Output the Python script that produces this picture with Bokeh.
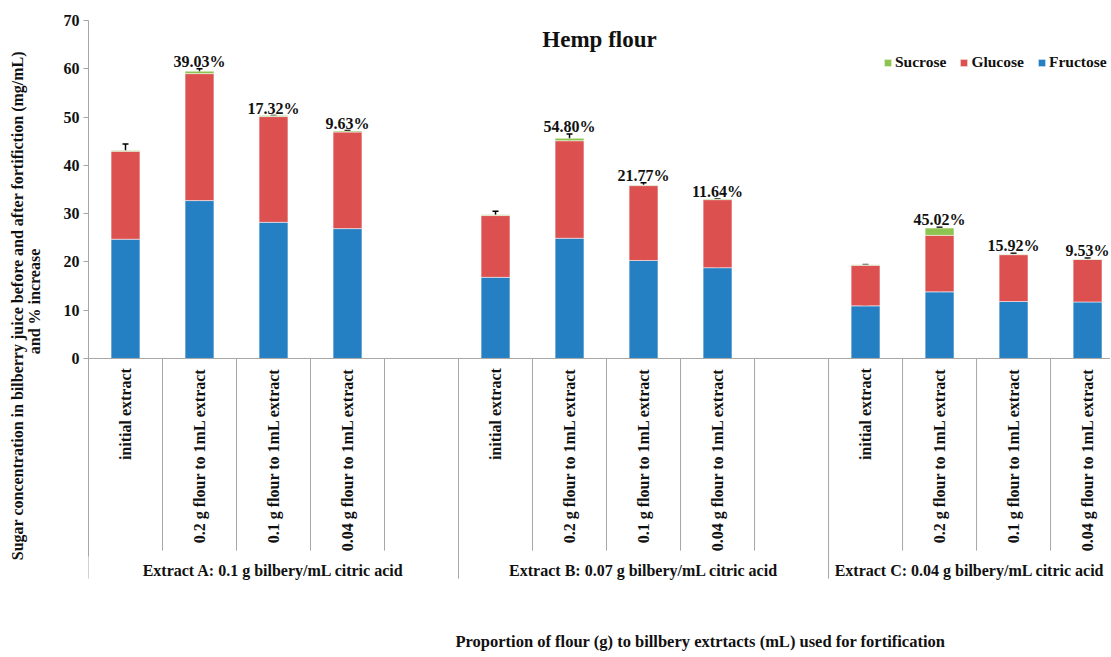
import numpy as np
from bokeh.plotting import figure
from bokeh.layouts import column
from bokeh.models import (ColumnDataSource, Range1d, FixedTicker, Span, Whisker,
                          TeeHead, Legend, LegendItem, Label)
from bokeh.core.properties import value
from bokeh.embed import file_html
from bokeh.resources import INLINE

# ---------------- data ----------------
groups = [
    "Extract A: 0.1 g bilbery/mL citric acid",
    "Extract B: 0.07 g bilbery/mL citric acid",
    "Extract C: 0.04 g bilbery/mL citric acid",
]
treatments = [
    "initial extract",
    "0.2 g flour to 1mL extract",
    "0.1 g flour to 1mL extract",
    "0.04 g flour to 1mL extract",
]
fructose = [24.7, 32.7, 28.2, 26.9, 16.8, 24.9, 20.3, 18.8, 10.9, 13.8, 11.8, 11.7]
glucose = [18.2, 26.3, 21.9, 20.0, 12.8, 20.2, 15.5, 14.1, 8.4, 11.7, 9.7, 8.8]
sucrose = [0.2, 0.5, 0.2, 0.2, 0.15, 0.5, 0.15, 0.15, 0.1, 1.5, 0.1, 0.1]
fructose_err = [0.5, 1.1, 0.7, 0.4, 0.9, 1.7, 0.8, 0.2, 0.1, 2.1, 0.7, 0.6]
glucose_err = [1.5, 1.0, 0.2, 0.3, 0.9, 1.4, 0.6, 0.2, 0.15, 1.7, 0.3, 0.3]
increase = ["", "39.03%", "17.32%", "9.63%",
            "", "54.80%", "21.77%", "11.64%",
            "", "45.02%", "15.92%", "9.53%"]

series_names = ["Fructose", "Glucose", "Sucrose"]
colors = ["#2580C3", "#DD5050", "#8DC351"]

x_title = "Proportion of flour (g) to billbery extrtacts (mL) used for fortification"
y_title = ("Sugar concentration in  bilberry juice before and  after fortifiction (mg/mL)"
           "\nand % increase")

# ---------------- layout helpers ----------------
FONT = "Liberation Serif"
TXT = "#111111"
GRAY = "#A6A6A6"
SLOTS = len(treatments) + 1          # 4 bars + one empty slot per group
X_END = 13.81                        # visible part of the 15 slots (chart is cropped)

x = [g * SLOTS + s + 0.5 for g in range(len(groups)) for s in range(len(treatments))]
tick_labels = [t for _ in groups for t in treatments]
fg = [f + g for f, g in zip(fructose, glucose)]
total = [a + s for a, s in zip(fg, sucrose)]

src = ColumnDataSource(dict(
    x=x,
    fructose=fructose, glucose=glucose, sucrose=sucrose,
    f_top=fructose,
    f_hi=[f + e for f, e in zip(fructose, fructose_err)],
    fg_top=fg,
    fg_hi=[a + e for a, e in zip(fg, glucose_err)],
))

p = figure(width=1110, height=582,
           x_range=Range1d(0, X_END), y_range=Range1d(-46.4, 70),
           output_backend="svg", toolbar_location=None,
           min_border_left=88, min_border_right=0,
           min_border_top=20, min_border_bottom=0)
p.title.visible = False
p.grid.visible = False
p.outline_line_color = None
p.background_fill_color = "white"

# ---- y axis
p.yaxis.ticker = FixedTicker(ticks=list(range(0, 71, 10)))
p.yaxis.bounds = (-41, 70)
p.yaxis.axis_label = y_title
p.yaxis.axis_label_text_font = FONT
p.yaxis.axis_label_text_font_style = "bold"
p.yaxis.axis_label_text_font_size = "16px"
p.yaxis.axis_label_text_line_height = 1.0
p.yaxis.axis_label_text_color = TXT
p.yaxis.axis_label_standoff = 18
p.yaxis.major_label_text_font = FONT
p.yaxis.major_label_text_font_style = "bold"
p.yaxis.major_label_text_font_size = "16px"
p.yaxis.major_label_text_color = TXT
p.yaxis.major_label_standoff = 4
p.yaxis.axis_line_color = GRAY
p.yaxis.major_tick_line_color = GRAY
p.yaxis.major_tick_out = 5
p.yaxis.major_tick_in = 0
p.yaxis.minor_tick_line_color = None

# ---- x axis: categories are drawn below the zero line
p.xaxis.visible = False

# zero line
p.add_layout(Span(location=0, dimension="width", line_color=GRAY, line_width=1))

# category separators
inner = [g * SLOTS + s for g in range(len(groups)) for s in range(1, SLOTS)]
outer = [g * SLOTS for g in range(len(groups))]
p.segment(x0=inner, y0=[0] * len(inner), x1=inner, y1=[-39.8] * len(inner),
          line_color=GRAY, line_width=1)
p.segment(x0=outer, y0=[0] * len(outer), x1=outer, y1=[-45.6] * len(outer),
          line_color=GRAY, line_width=1)

# stacked bars
rs = p.vbar_stack(["fructose", "glucose", "sucrose"], x="x", width=0.39,
                  color=colors, source=src, line_color="white", line_width=0.5)

# error bars
for lo, hi in (("f_top", "f_hi"), ("fg_top", "fg_hi")):
    p.add_layout(Whisker(source=src, base="x", lower=lo, upper=hi, dimension="height",
                         line_color="black", line_width=1.5, lower_head=None,
                         upper_head=TeeHead(size=6, line_color="black", line_width=1.5)))

# percent increase labels
idx = [i for i, t in enumerate(increase) if t]
pct_src = ColumnDataSource(dict(
    x=[x[i] for i in idx],
    y=[max(fg[i] + glucose_err[i], total[i]) for i in idx],
    text=[increase[i] for i in idx],
))
p.text(x="x", y="y", text="text", source=pct_src, y_offset=1,
       text_align="center", text_baseline="bottom",
       text_font=value(FONT), text_font_style="bold", text_font_size="16px",
       text_color=TXT)

# category (treatment) labels, rotated
p.text(x=x, y=[-2.0] * len(x), text=tick_labels, angle=np.pi / 2,
       text_align="right", text_baseline="middle",
       text_font=value(FONT), text_font_style="bold", text_font_size="16px",
       text_color=TXT)

# group labels (centred on the visible part of each group)
gx = [(g * SLOTS + min((g + 1) * SLOTS, X_END)) / 2 for g in range(len(groups))]
p.text(x=gx, y=[-43.9] * len(groups), text=groups,
       text_align="center", text_baseline="middle",
       text_font=value(FONT), text_font_style="bold", text_font_size="16px",
       text_color=TXT)

# chart title inside plot
p.add_layout(Label(x=X_END / 2, y=66, text="Hemp flour", text_align="center",
                   text_baseline="middle", text_font=FONT, text_font_style="bold",
                   text_font_size="23px", text_color=TXT))

# legend
legend = Legend(items=[LegendItem(label=series_names[k], renderers=[rs[k]]) for k in (2, 1, 0)],
                orientation="horizontal", location=(795, 511))
legend.label_text_font = FONT
legend.label_text_font_style = "bold"
legend.label_text_font_size = "15.5px"
legend.label_text_color = TXT
legend.glyph_width = 9
legend.glyph_height = 9
legend.label_height = 18
legend.label_standoff = 3
legend.spacing = 13
legend.padding = 4
legend.margin = 0
legend.border_line_color = None
legend.background_fill_alpha = 0
p.add_layout(legend)

# ---- x-axis title strip under the category labels (same x scale)
p2 = figure(width=1110, height=73, x_range=p.x_range, y_range=Range1d(0, 1),
            output_backend="svg", toolbar_location=None,
            min_border_left=88, min_border_right=0, min_border_top=0, min_border_bottom=0)
p2.title.visible = False
p2.axis.visible = False
p2.grid.visible = False
p2.outline_line_color = None
p2.text(x=[8.27], y=[0.19], text=[x_title], text_align="center", text_baseline="middle",
        text_font=value(FONT), text_font_style="bold", text_font_size="16.5px",
        text_color=TXT)

layout = column(p, p2, spacing=0)
open("out.html", "w").write(file_html(layout, INLINE))
